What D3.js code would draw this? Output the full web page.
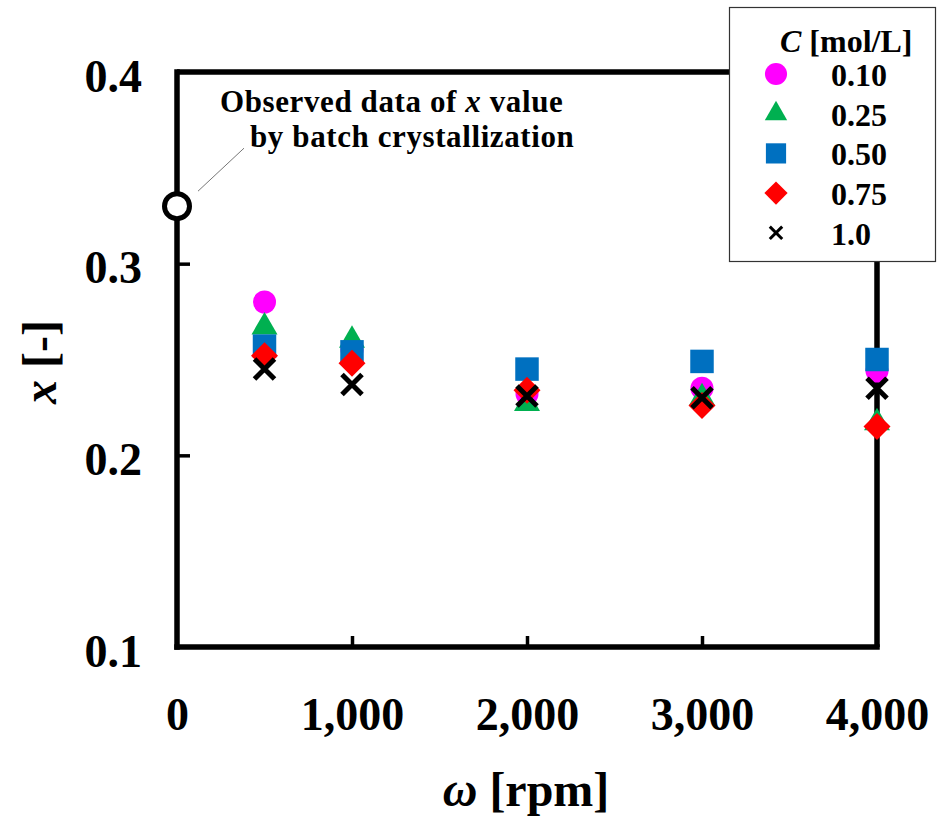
<!DOCTYPE html>
<html>
<head>
<meta charset="utf-8">
<script src="https://cdn.jsdelivr.net/npm/d3@7"></script>
<style>
  html, body { margin: 0; padding: 0; background: #fff; }
  svg { display: block; }
  text { font-family: "Liberation Serif", "Times New Roman", serif; font-weight: bold; fill: #000; }
</style>
</head>
<body>
<svg id="chart" width="941" height="821"></svg>
<script>
// Stirring speed (rpm) at which each concentration was measured
const speeds = [500, 1000, 2000, 3000, 4000];

// Concentration series (legend labels)
const concLabels = ["0.10", "0.25", "0.50", "0.75", "1.0"];

// x values for each concentration, one per speed
const x010 = [0.280, 0.255, 0.232, 0.235, 0.244];
const x025 = [0.267, 0.260, 0.227, 0.230, 0.217];
const x050 = [0.257, 0.254, 0.245, 0.249, 0.250];
const x075 = [0.252, 0.248, 0.234, 0.226, 0.215];
const x100 = [0.245, 0.237, 0.231, 0.230, 0.235];

// Batch crystallization reference point
const batchSpeed = [0];
const batchX = [0.330];

// Axis ticks
const xTicks = [0, 1000, 2000, 3000, 4000];
const yTicks = [0.1, 0.2, 0.3, 0.4];

const seriesValues = [x010, x025, x050, x075, x100];
const colors = ["#FF00FF", "#00B050", "#0070C0", "#FF0000", "#000000"];
const shapes = ["circle", "triangle", "square", "diamond", "cross"];

const svg = d3.select("#chart");

const plotL = 177, plotR = 877, plotT = 72, plotB = 647;
const xScale = d3.scaleLinear().domain([0, 4000]).range([plotL, plotR]);
const yScale = d3.scaleLinear().domain([0.1, 0.4]).range([plotB, plotT]);

const frameW = 5.5;

// Frame (top and right edges)
svg.append("path")
  .attr("d", `M${plotL},${plotT}H${plotR}V${plotB}`)
  .attr("fill", "none").attr("stroke", "#000").attr("stroke-width", frameW)
  .attr("stroke-linejoin", "miter");

// Bottom axis with inward ticks
const xAxis = d3.axisBottom(xScale)
  .tickValues(xTicks)
  .tickSizeInner(-11).tickSizeOuter(0)
  .tickPadding(50)
  .tickFormat(d3.format(",d"));

const gx = svg.append("g").attr("transform", `translate(0,${plotB})`).call(xAxis);
gx.select(".domain").attr("stroke", "#000").attr("stroke-width", frameW)
  .attr("d", `M${plotL - frameW / 2},0H${plotR + frameW / 2}`);
gx.selectAll(".tick line").attr("stroke", "#000").attr("stroke-width", 3.5)
  .filter(d => d === 0 || d === 4000).remove();
gx.selectAll(".tick text").style("font-size", "46px")
  .style("font-family", "'Liberation Serif', serif").style("font-weight", "bold");

// Left axis with inward ticks
const yAxis = d3.axisLeft(yScale)
  .tickValues(yTicks)
  .tickSizeInner(-13).tickSizeOuter(0)
  .tickPadding(35)
  .tickFormat(d3.format(".1f"));

const gy = svg.append("g").attr("transform", `translate(${plotL},0)`).call(yAxis);
gy.select(".domain").attr("stroke", "#000").attr("stroke-width", frameW)
  .attr("d", `M0,${plotT - frameW / 2}V${plotB + frameW / 2}`);
gy.selectAll(".tick line").attr("stroke", "#000").attr("stroke-width", 3.5)
  .filter(d => d === 0.1 || d === 0.4).remove();
gy.selectAll(".tick text").style("font-size", "46px")
  .style("font-family", "'Liberation Serif', serif").style("font-weight", "bold")
  .attr("dy", "0.42em");

// Axis titles
const xTitle = svg.append("text")
  .attr("x", (plotL + plotR) / 2 - 1).attr("y", 806)
  .attr("text-anchor", "middle")
  .style("font-size", "48px");
xTitle.append("tspan").style("font-style", "italic").text("ω");
xTitle.append("tspan").text(" [rpm]");

const yTitle = svg.append("text")
  .attr("transform", "translate(56,362) rotate(-90)")
  .attr("text-anchor", "middle")
  .style("font-size", "48px");
yTitle.append("tspan").style("font-style", "italic").text("x");
yTitle.append("tspan").text(" [-]");

// Marker path generators
function markerPath(shape, k) {
  switch (shape) {
    case "circle": return d3.symbol(d3.symbolCircle, Math.PI * Math.pow(11.5 * k, 2))();
    case "triangle": return d3.symbol(d3.symbolTriangle, Math.pow(26 * k, 2) * Math.sqrt(3) / 4)();
    case "square": return d3.symbol(d3.symbolSquare, Math.pow(23.5 * k, 2))();
    case "diamond": {
      const h = 13.5 * k;
      return `M0,${-h}L${h},0L0,${h}L${-h},0Z`;
    }
    case "cross": {
      const h = 10 * k;
      return `M${-h},${-h}L${h},${h}M${-h},${h}L${h},${-h}`;
    }
  }
}

function drawMarker(sel, i, k, crossW) {
  const shape = shapes[i];
  const p = sel.append("path").attr("d", markerPath(shape, k));
  if (shape === "cross") {
    p.attr("fill", "none").attr("stroke", colors[i]).attr("stroke-width", crossW);
  } else {
    p.attr("fill", colors[i]);
  }
  return p;
}

// Data points, one group per concentration
seriesValues.forEach((vals, i) => {
  const g = svg.append("g").attr("class", "series-" + i);
  vals.forEach((v, j) => {
    const m = g.append("g").attr("transform", `translate(${xScale(speeds[j])},${yScale(v)})`);
    drawMarker(m, i, 1, 5);
  });
});

// Batch crystallization point and its callout
svg.append("line")
  .attr("x1", xScale(batchSpeed[0]) + 21).attr("y1", yScale(batchX[0]) - 15)
  .attr("x2", xScale(batchSpeed[0]) + 67).attr("y2", yScale(batchX[0]) - 58)
  .attr("stroke", "#777").attr("stroke-width", 1);

svg.selectAll("circle.batch").data(batchX).join("circle")
  .attr("class", "batch")
  .attr("cx", (d, i) => xScale(batchSpeed[i]))
  .attr("cy", d => yScale(d))
  .attr("r", 12.5)
  .attr("fill", "#fff").attr("stroke", "#000").attr("stroke-width", 5);

// Two-line callout text
const note = svg.append("text").attr("x", 220).attr("y", 112)
  .style("font-size", "31px").style("letter-spacing", "0.6px");
note.append("tspan").text("Observed data of ");
note.append("tspan").style("font-style", "italic").text("x");
note.append("tspan").text(" value");
svg.append("text").attr("x", 250).attr("y", 147)
  .style("font-size", "31px").style("letter-spacing", "0.6px")
  .text("by batch crystallization");

// Legend
const lg = svg.append("g");
lg.append("rect")
  .attr("x", 729.5).attr("y", 7.5).attr("width", 206).attr("height", 254)
  .attr("fill", "#fff").attr("stroke", "#333").attr("stroke-width", 1.2);

const lt = lg.append("text").attr("x", 780).attr("y", 52).style("font-size", "32px");
lt.append("tspan").style("font-style", "italic").text("C");
lt.append("tspan").text(" [mol/L]");

concLabels.forEach((lab, i) => {
  const cy = 74 + i * 39.7;
  const m = lg.append("g").attr("transform", `translate(776,${cy})`);
  if (shapes[i] === "circle") drawMarker(m, i, 0.96, 3);
  else if (shapes[i] === "cross") drawMarker(m, i, 0.62, 3);
  else drawMarker(m, i, 0.86, 3);
  lg.append("text").attr("x", 831).attr("y", cy + 12).style("font-size", "32px").text(lab);
});
</script>
</body>
</html>
